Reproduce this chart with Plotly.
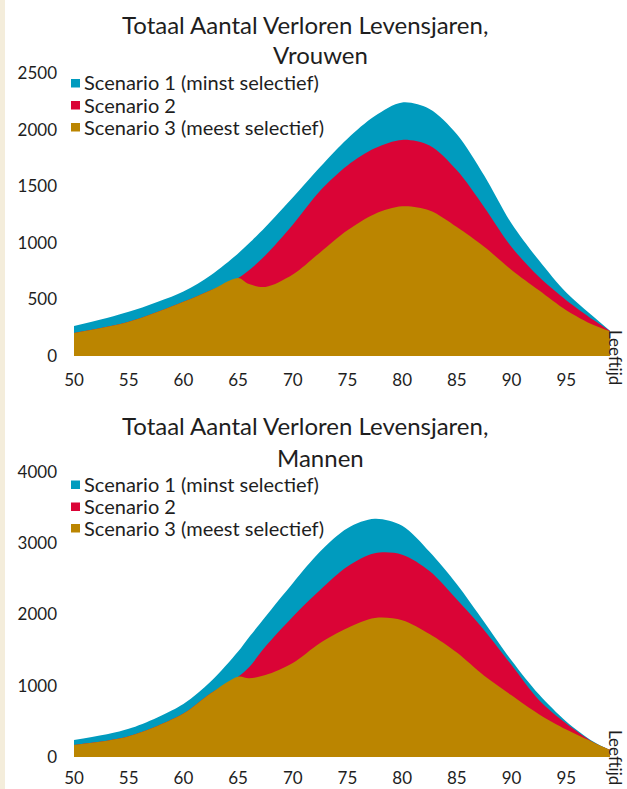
import plotly.graph_objects as go

# ---------------- data ----------------
ages = [50, 55, 60, 62.5, 65, 66, 67.5, 70, 72.5, 75, 77.5, 80, 82.5, 85, 87.5, 90, 92.5, 95, 97.5, 99]

# Vrouwen
vrouwen_s1 = [264, 390, 570, 713, 905, 995, 1140, 1400, 1670, 1920, 2120, 2240, 2183, 1960, 1595, 1170, 845, 560, 346, 222]
vrouwen_s2 = [203, 302, 479, 581, 690, 758, 890, 1160, 1460, 1683, 1835, 1909, 1859, 1640, 1315, 963, 699, 493, 317, 220]
vrouwen_s3 = [203, 302, 479, 581, 690, 635, 610, 720, 915, 1110, 1255, 1322, 1286, 1140, 965, 760, 581, 405, 273, 218]

# Mannen
mannen_s1 = [239, 395, 745, 1058, 1479, 1680, 1970, 2440, 2884, 3212, 3343, 3245, 2880, 2425, 1895, 1355, 880, 500, 215, 100]
mannen_s2 = [170, 290, 610, 894, 1128, 1260, 1550, 1970, 2345, 2673, 2860, 2840, 2610, 2210, 1780, 1290, 800, 470, 205, 100]
mannen_s3 = [170, 290, 610, 894, 1128, 1105, 1150, 1320, 1600, 1810, 1950, 1920, 1725, 1465, 1140, 865, 600, 385, 205, 100]

series_names = ["Scenario 1 (minst selectief)", "Scenario 2", "Scenario 3 (meest selectief)"]
x_ticks = [50, 55, 60, 65, 70, 75, 80, 85, 90, 95]
y_ticks_vrouwen = [0, 500, 1000, 1500, 2000, 2500]
y_ticks_mannen = [0, 1000, 2000, 3000, 4000]
title_line1 = "Totaal Aantal Verloren Levensjaren,"
title_vrouwen = "Vrouwen"
title_mannen = "Mannen"
x_label = "Leeftijd"

# ---------------- style ----------------
COLORS = ["#009BBE", "#DA0436", "#BB8500"]
FONT = "Lato"
TXT = "#1e1e1e"
W, H = 627, 789
ML, MR = 74, 17
PW = W - ML - MR


def px2x(px):
    return (px - ML) / PW


def py2y(py):
    return 1 - py / H


fig = go.Figure()

panels = [
    (vrouwen_s1, vrouwen_s2, vrouwen_s3, "x", "y"),
    (mannen_s1, mannen_s2, mannen_s3, "x2", "y2"),
]
for s1, s2, s3, xa, ya in panels:
    for vals, col, name in zip([s1, s2, s3], COLORS, series_names):
        fig.add_trace(go.Scatter(
            x=ages, y=vals, xaxis=xa, yaxis=ya, name=name,
            mode="lines", fill="tozeroy", fillcolor=col,
            line=dict(width=0, color=col, shape="spline", smoothing=0.9),
            showlegend=False, hoverinfo="x+y+name",
        ))

axis_font = dict(family=FONT, size=17, color=TXT)
common_x = dict(range=[50, 99], tickvals=x_ticks, showgrid=False, zeroline=False,
                showline=False, ticks="", tickfont=axis_font,
                fixedrange=True, automargin=False)
common_y = dict(showgrid=False, zeroline=False, showline=False, ticks="",
                tickfont=axis_font, ticklabelstandoff=16, fixedrange=True, automargin=False)

fig.update_layout(
    width=W, height=H,
    margin=dict(l=ML, r=MR, t=0, b=0, pad=0, autoexpand=False),
    paper_bgcolor="white", plot_bgcolor="white",
    showlegend=False,
    xaxis=dict(domain=[0, 1], anchor="y", ticklabelstandoff=12, **common_x),
    yaxis=dict(domain=[py2y(356), py2y(73)], range=[0, 2500], tickvals=y_ticks_vrouwen,
               anchor="x", **common_y),
    xaxis2=dict(domain=[0, 1], anchor="y2", ticklabelstandoff=9, **common_x),
    yaxis2=dict(domain=[py2y(757), py2y(472)], range=[0, 4000], tickvals=y_ticks_mannen,
                anchor="x2", **common_y),
)

annotations = []
shapes = []

# left cream strip
shapes.append(dict(type="rect", xref="paper", yref="paper",
                   x0=px2x(0), x1=px2x(5), y0=0, y1=1,
                   fillcolor="#F4EDDB", line=dict(width=0), layer="below"))

title_font = dict(family=FONT, size=24, color=TXT)
for line2, y1, y2 in [(title_vrouwen, 24, 55), (title_mannen, 425, 457)]:
    annotations.append(dict(text=title_line1, xref="paper", yref="paper",
                            x=px2x(305), y=py2y(y1), xanchor="center", yanchor="middle",
                            showarrow=False, font=title_font))
    annotations.append(dict(text=line2, xref="paper", yref="paper",
                            x=px2x(320), y=py2y(y2), xanchor="center", yanchor="middle",
                            showarrow=False, font=title_font))

# legends (squares + text)
leg_font = dict(family=FONT, size=20, color=TXT)
for rows in [[83.5, 105.5, 127.5], [485, 507, 528.5]]:
    for cy, col, name in zip(rows, COLORS, series_names):
        shapes.append(dict(type="rect", xref="paper", yref="paper",
                           x0=px2x(71), x1=px2x(80), y0=py2y(cy + 4), y1=py2y(cy - 4.5),
                           fillcolor=col, line=dict(width=0)))
        annotations.append(dict(text=name, xref="paper", yref="paper",
                                x=px2x(82), y=py2y(cy - 1), xanchor="left", yanchor="middle",
                                showarrow=False, font=leg_font))

# rotated axis label "Leeftijd"
for cy in [357, 757]:
    annotations.append(dict(text=x_label, xref="paper", yref="paper",
                            x=px2x(616), y=py2y(cy), xanchor="center", yanchor="middle",
                            textangle=90, showarrow=False,
                            font=dict(family=FONT, size=17, color=TXT)))

fig.update_layout(annotations=annotations, shapes=shapes)

fig.write_html("out.html", config={"displayModeBar": False},
               post_script="document.body.style.margin='0px';")
